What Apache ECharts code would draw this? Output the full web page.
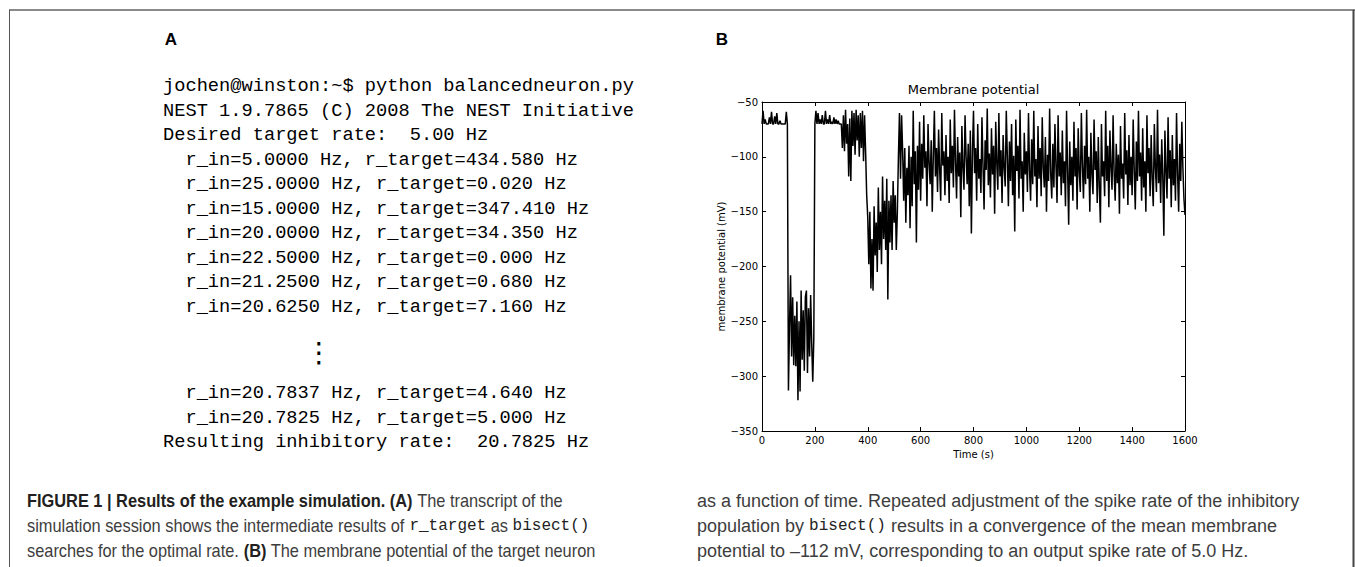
<!DOCTYPE html>
<html><head><meta charset="utf-8">
<script src="https://cdn.jsdelivr.net/npm/echarts@6/dist/echarts.min.js"></script>
<style>html,body{margin:0;padding:0;background:#fff;}#c{width:1355px;height:567px;}</style>
</head><body><div id="c"></div>
<script>
// ---- data ----
const xTickLabels = [0, 200, 400, 600, 800, 1000, 1200, 1400, 1600];
const yTickLabels = [-350, -300, -250, -200, -150, -100, -50];
const timeStep = 4; // seconds between samples
const membranePotential = [
  // 0-96
  -70,-58,-70,-66,-70,-70,-70,-64,-70,-59,-70,-70,-63,-70,-60,-70,-70,-67,-70,-70,-70,-70,-70,-59,-70,
  // 100-196
  -313,-255,-208,-282,-228,-290,-245,-291,-232,-322,-250,-314,-222,-285,-240,-295,-228,-222,-297,-238,-282,-226,-270,-305,-265,
  // 200-296
  -70,-58,-70,-60,-70,-66,-70,-62,-70,-70,-58,-70,-66,-70,-62,-70,-68,-70,-64,-70,-66,-70,-67,-70,-70,
  // 300-396
  -70,-92,-62,-95,-57,-88,-70,-118,-65,-122,-58,-90,-60,-98,-57,-85,-62,-100,-60,-92,-58,-104,-62,-96,-135,
  // 400-496
  -155,-198,-150,-220,-175,-222,-145,-190,-160,-205,-128,-185,-150,-198,-118,-175,-140,-185,-120,-230,-140,-178,-135,-185,-122,
  // 500-596
  -160,-135,-185,-150,-100,-60,-120,-62,-95,-140,-92,-160,-110,-135,-90,-165,-100,-145,-58,-125,-95,-178,-90,-130,-68,
  // 600-996
  -140,-88,-120,-62,-110,-95,-145,-70,-105,-125,
  -85,-150,-98,-58,-118,-92,-132,-75,-112,-140,
  -60,-108,-95,-135,-80,-122,-100,-142,-66,-115,
  -90,-128,-57,-104,-138,-82,-118,-96,-155,-72,
  -110,-130,-62,-100,-125,-88,-145,-76,-170,-95,
  -58,-115,-92,-140,-70,-120,-102,-133,-64,-108,
  -148,-85,-112,-56,-126,-97,-137,-74,-116,-90,
  -152,-68,-105,-130,-60,-118,-94,-142,-80,-110,
  -127,-58,-100,-145,-86,-122,-70,-135,-99,-168,
  -66,-113,-90,-138,-57,-120,-104,-150,-78,-116,
  // 1000-1396
  -95,-132,-60,-112,-140,-84,-125,-58,-118,-102,
  -146,-72,-120,-92,-136,-64,-110,-128,-82,-150,
  -98,-122,-56,-115,-138,-88,-128,-70,-108,-142,
  -62,-118,-96,-135,-76,-124,-104,-145,-58,-112,
  -162,-86,-126,-100,-140,-68,-118,-92,-148,-74,
  -114,-132,-60,-108,-138,-90,-125,-57,-120,-100,
  -150,-78,-116,-134,-66,-112,-95,-142,-82,-128,
  -160,-70,-118,-104,-136,-58,-122,-90,-146,-76,
  -110,-130,-62,-115,-140,-88,-124,-98,-152,-72,
  -120,-106,-138,-60,-116,-94,-144,-80,-126,-100,
  // 1400-1600
  -135,-66,-112,-148,-86,-122,-58,-118,-96,-140,
  -74,-128,-104,-150,-62,-115,-92,-136,-80,-120,
  -145,-70,-110,-132,-57,-124,-98,-142,-84,-118,
  -172,-76,-112,-138,-64,-120,-94,-146,-80,-126,
  -102,-140,-60,-116,-150,-88,-122,-68,-110,-138,
  -153
];
const chartTitle = 'Membrane potential';
const xAxisTitle = 'Time (s)';
const yAxisTitle = 'membrane potential (mV)';

const transcriptLines = [
  'jochen@winston:~$ python balancedneuron.py',
  'NEST 1.9.7865 (C) 2008 The NEST Initiative',
  'Desired target rate:  5.00 Hz',
  '  r_in=5.0000 Hz, r_target=434.580 Hz',
  '  r_in=25.0000 Hz, r_target=0.020 Hz',
  '  r_in=15.0000 Hz, r_target=347.410 Hz',
  '  r_in=20.0000 Hz, r_target=34.350 Hz',
  '  r_in=22.5000 Hz, r_target=0.000 Hz',
  '  r_in=21.2500 Hz, r_target=0.680 Hz',
  '  r_in=20.6250 Hz, r_target=7.160 Hz'
];
const transcriptEllipsis = '\u22EE';
const transcriptTail = [
  '  r_in=20.7837 Hz, r_target=4.640 Hz',
  '  r_in=20.7825 Hz, r_target=5.000 Hz'
];
const transcriptResult = 'Resulting inhibitory rate:  20.7825 Hz';

// caption: [style, text] segments per line
const captionLeft = [
  [['b', 'FIGURE 1 | Results of the example simulation. (A)'], ['n', ' The transcript of the']],
  [['n', 'simulation session shows the intermediate results of '], ['m', 'r_target'], ['n', ' as '], ['m', 'bisect()']],
  [['n', 'searches for the optimal rate. '], ['b', '(B)'], ['n', ' The membrane potential of the target neuron']]
];
const captionRight = [
  [['n', 'as a function of time. Repeated adjustment of the spike rate of the inhibitory']],
  [['n', 'population by '], ['m', 'bisect()'], ['n', ' results in a convergence of the mean membrane']],
  [['n', 'potential to \u2013112 mV, corresponding to an output spike rate of 5.0 Hz.']]
];

// ---- layout ----
const chart = echarts.init(document.getElementById('c'), null, {renderer: 'svg'});
const minus = v => String(v).replace('-', '\u2212');
const tickFont = {fontFamily: 'DejaVu Sans', fontSize: 10, color: '#000'};
const monoFont = '18.7px "Liberation Mono", "DejaVu Sans Mono", monospace';

const measureCtx = document.createElement('canvas').getContext('2d');
function textWidth(t, font) { measureCtx.font = font; return measureCtx.measureText(t).width; }

const capStyles = {
  b: {font: 'bold 18px "Liberation Sans", Arial, sans-serif', fill: '#231f20', squeeze: true},
  n: {font: '18px "Liberation Sans", Arial, sans-serif', fill: '#3d3d3d', squeeze: true},
  m: {font: '16px "Liberation Mono", monospace', fill: '#222', squeeze: false}
};

const graphics = [];
// frame
graphics.push({type: 'line', shape: {x1: 9, y1: 10, x2: 1355, y2: 10}, style: {stroke: '#8a8a8a', lineWidth: 2}});
graphics.push({type: 'line', shape: {x1: 9.5, y1: 10, x2: 9.5, y2: 567}, style: {stroke: '#555', lineWidth: 1}});
graphics.push({type: 'line', shape: {x1: 1353.5, y1: 10, x2: 1353.5, y2: 567}, style: {stroke: '#444', lineWidth: 2}});
// panel letters
graphics.push({type: 'text', style: {text: 'A', x: 171, y: 39, fill: '#000', font: 'bold 17px "Liberation Sans", Arial, sans-serif', textAlign: 'center', textVerticalAlign: 'middle'}});
graphics.push({type: 'text', style: {text: 'B', x: 722, y: 39, fill: '#000', font: 'bold 17px "Liberation Sans", Arial, sans-serif', textAlign: 'center', textVerticalAlign: 'middle'}});
// transcript
const lineH = 24.5, topY = 86, codeX = 163;
transcriptLines.forEach((t, i) => {
  graphics.push({type: 'text', style: {text: t, x: codeX, y: topY + i * lineH, fill: '#000', font: monoFont, textVerticalAlign: 'middle'}});
});
graphics.push({type: 'text', style: {text: transcriptEllipsis, x: 319, y: 352, fill: '#000', font: '28px "DejaVu Sans", sans-serif', textAlign: 'center', textVerticalAlign: 'middle'}});
transcriptTail.forEach((t, i) => {
  graphics.push({type: 'text', style: {text: t, x: codeX, y: 393 + i * lineH, fill: '#000', font: monoFont, textVerticalAlign: 'middle'}});
});
graphics.push({type: 'text', style: {text: transcriptResult, x: codeX, y: 442, fill: '#000', font: monoFont, textVerticalAlign: 'middle'}});
// caption
function addCaption(lines, x0, y0, dy, squeeze) {
  lines.forEach((segs, i) => {
    let x = x0;
    const y = y0 + i * dy;
    segs.forEach(([k, t]) => {
      const s = capStyles[k];
      const sx = s.squeeze ? squeeze : 1;
      graphics.push({type: 'text', x: x, y: y, scaleX: sx,
        style: {text: t, x: 0, y: 0, font: s.font, fill: s.fill, textVerticalAlign: 'middle'}});
      x += textWidth(t, s.font) * sx;
    });
  });
}
addCaption(captionLeft, 27, 501, 25, 0.91);
addCaption(captionRight, 697, 501, 25, 1.0);
// chart title
graphics.push({type: 'text', style: {text: chartTitle, x: 973.5, y: 89, fill: '#000', font: '13px "DejaVu Sans", sans-serif', textAlign: 'center', textVerticalAlign: 'middle'}});

const axisCommonX = {
  type: 'value', min: 0, max: 1600, interval: 200,
  splitLine: {show: false},
  axisLine: {show: true, onZero: false, lineStyle: {color: '#000', width: 1}},
  axisTick: {show: true, inside: true, length: 4, lineStyle: {color: '#000'}}
};
const axisCommonY = {
  type: 'value', min: -350, max: -50, interval: 50,
  splitLine: {show: false},
  axisLine: {show: true, onZero: false, lineStyle: {color: '#000', width: 1}},
  axisTick: {show: true, inside: true, length: 4, lineStyle: {color: '#000'}}
};

chart.setOption({
  animation: false,
  backgroundColor: '#fff',
  grid: {left: 762, top: 102, width: 423, height: 329, containLabel: false},
  xAxis: [
    Object.assign({}, axisCommonX, {
      position: 'bottom',
      axisLabel: Object.assign({margin: 4, formatter: v => xTickLabels.includes(v) ? minus(v) : ''}, tickFont),
      name: xAxisTitle, nameLocation: 'middle', nameGap: 16,
      nameTextStyle: {fontFamily: 'DejaVu Sans', fontSize: 10, color: '#000'}
    }),
    Object.assign({}, axisCommonX, {position: 'top', axisLabel: {show: false}})
  ],
  yAxis: [
    Object.assign({}, axisCommonY, {
      position: 'left',
      axisLabel: Object.assign({margin: 4, formatter: v => yTickLabels.includes(v) ? minus(v) : ''}, tickFont),
      name: yAxisTitle, nameLocation: 'middle', nameGap: 36, nameRotate: 90,
      nameTextStyle: {fontFamily: 'DejaVu Sans', fontSize: 10, color: '#000'}
    }),
    Object.assign({}, axisCommonY, {position: 'right', axisLabel: {show: false}})
  ],
  series: [{
    type: 'line',
    xAxisIndex: 0, yAxisIndex: 0,
    data: membranePotential.map((v, i) => [i * timeStep, v]),
    showSymbol: false, symbol: 'none',
    lineStyle: {color: '#000', width: 1.5},
    sampling: null, silent: true
  }],
  graphic: graphics
});
</script></body></html>
